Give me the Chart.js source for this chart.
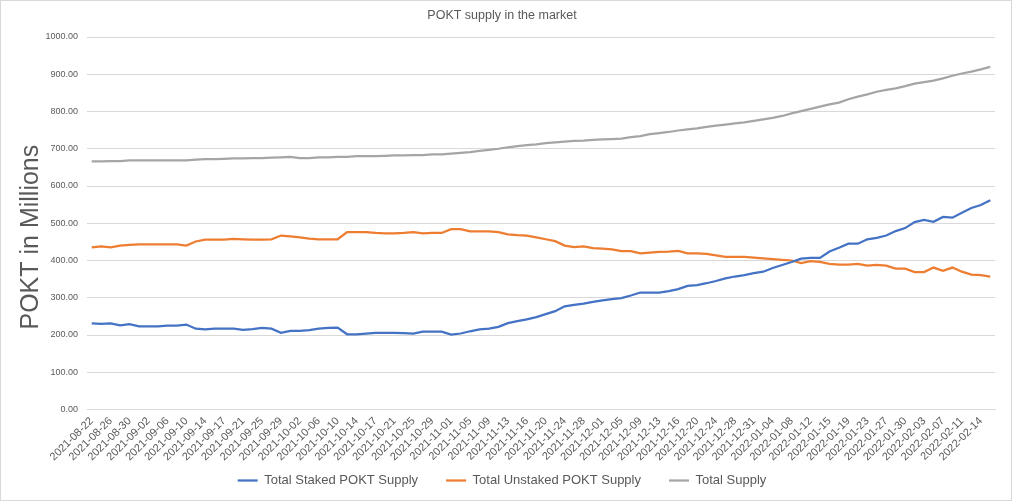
<!DOCTYPE html>
<html>
<head>
<meta charset="utf-8">
<title>POKT supply in the market</title>
<script src="https://cdn.jsdelivr.net/npm/chart.js@4.4.1/dist/chart.umd.min.js"></script>
<style>
    html, body { margin: 0; padding: 0; background: #fff; }
    #wrap { position: relative; width: 1012px; height: 501px; box-sizing: border-box; border: 1px solid #d9d9d9; }
</style>
</head>
<body>
<div id="wrap"><canvas id="supplyChart"></canvas></div>
<script>
// dates (every other one is shown on the axis)
const dates = [
    '2021-08-22', '2021-08-24', '2021-08-26', '2021-08-28', '2021-08-30', '2021-08-31',
    '2021-09-02', '2021-09-04', '2021-09-06', '2021-09-08', '2021-09-10', '2021-09-12',
    '2021-09-14', '2021-09-15', '2021-09-17', '2021-09-19', '2021-09-21', '2021-09-23',
    '2021-09-25', '2021-09-27', '2021-09-29', '2021-09-30', '2021-10-02', '2021-10-04',
    '2021-10-06', '2021-10-08', '2021-10-10', '2021-10-12', '2021-10-14', '2021-10-15',
    '2021-10-17', '2021-10-19', '2021-10-21', '2021-10-23', '2021-10-25', '2021-10-27',
    '2021-10-29', '2021-10-30', '2021-11-01', '2021-11-03', '2021-11-05', '2021-11-07',
    '2021-11-09', '2021-11-11', '2021-11-13', '2021-11-14', '2021-11-16', '2021-11-18',
    '2021-11-20', '2021-11-22', '2021-11-24', '2021-11-26', '2021-11-28', '2021-11-29',
    '2021-12-01', '2021-12-03', '2021-12-05', '2021-12-07', '2021-12-09', '2021-12-11',
    '2021-12-13', '2021-12-14', '2021-12-16', '2021-12-18', '2021-12-20', '2021-12-22',
    '2021-12-24', '2021-12-26', '2021-12-28', '2021-12-29', '2021-12-31', '2022-01-02',
    '2022-01-04', '2022-01-06', '2022-01-08', '2022-01-10', '2022-01-12', '2022-01-13',
    '2022-01-15', '2022-01-17', '2022-01-19', '2022-01-21', '2022-01-23', '2022-01-25',
    '2022-01-27', '2022-01-28', '2022-01-30', '2022-02-01', '2022-02-03', '2022-02-05',
    '2022-02-07', '2022-02-09', '2022-02-11', '2022-02-12', '2022-02-14', '2022-02-16'
];

// millions of POKT
const staked = [
    231, 230, 231, 226, 229, 223, 223, 223, 225, 225, 228, 217,
    215, 217, 217, 217, 214, 216, 219, 217, 206, 211, 211, 213,
    217, 219, 220, 202, 202, 204, 206, 206, 206, 205, 204, 209,
    209, 209, 201, 204, 210, 215, 217, 222, 232, 237, 242, 248,
    256, 264, 277, 281, 284, 289, 293, 296, 299, 306, 314, 314,
    314, 318, 323, 332, 334, 339, 345, 352, 357, 361, 366, 370,
    380, 388, 396, 405, 407, 407, 424, 434, 445, 445, 457, 461,
    467, 479, 487, 503, 509, 504, 517, 515, 528, 541, 549, 562
];

const unstaked = [
    435, 438, 435, 440, 442, 443, 443, 443, 443, 443, 440, 451,
    456, 456, 456, 458, 457, 456, 456, 457, 467, 465, 462, 459,
    457, 457, 457, 476, 476, 476, 474, 473, 473, 474, 476, 473,
    474, 474, 484, 484, 478, 478, 478, 476, 470, 468, 467, 462,
    457, 452, 440, 436, 438, 433, 432, 430, 425, 425, 419, 421,
    423, 424, 426, 419, 419, 418, 414, 410, 410, 410, 408, 406,
    404, 402, 400, 393, 398, 396, 391, 389, 389, 391, 386, 388,
    386, 378, 378, 369, 369, 381, 372, 381, 370, 362, 361, 357
];

const totalSupply = [
    666, 666, 667, 667, 669, 669, 669, 669, 669, 669, 669, 671,
    672, 672, 673, 674, 674, 675, 675, 676, 677, 678, 675, 675,
    677, 677, 678, 678, 680, 680, 680, 681, 682, 682, 683, 683,
    685, 685, 687, 689, 691, 694, 697, 700, 704, 707, 710, 712,
    715, 717, 719, 721, 722, 724, 725, 726, 727, 731, 734, 739,
    742, 745, 749, 752, 755, 759, 762, 765, 768, 771, 775, 779,
    783, 788, 795, 801, 807, 813, 819, 824, 833, 840, 846, 853,
    858, 862, 868, 875, 879, 883, 889, 896, 902, 907, 913, 920
];

const textColor = '#595959';
const gridColor = '#d9d9d9';
const fontFamily = '"Liberation Sans", Arial, sans-serif';

const ctx = document.getElementById('supplyChart').getContext('2d');
new Chart(ctx, {
    type: 'line',
    data: {
        labels: dates,
        datasets: [
            { label: 'Total Staked POKT Supply', data: staked, borderColor: '#4472C4', backgroundColor: '#4472C4', borderWidth: 2.25 },
            { label: 'Total Unstaked POKT Supply', data: unstaked, borderColor: '#ED7D31', backgroundColor: '#ED7D31', borderWidth: 2.25 },
            { label: 'Total Supply', data: totalSupply, borderColor: '#A5A5A5', backgroundColor: '#A5A5A5', borderWidth: 2.25 }
        ]
    },
    options: {
        responsive: true,
        maintainAspectRatio: false,
        animation: false,
        layout: { padding: { left: 8, right: 16, top: 4, bottom: 3 } },
        elements: {
            line: { tension: 0 },
            point: { radius: 0, hoverRadius: 0 }
        },
        scales: {
            x: {
                offset: true,
                grid: { display: false },
                border: { color: gridColor },
                ticks: {
                    autoSkip: false,
                    maxRotation: 45,
                    minRotation: 45,
                    padding: -3,
                    color: textColor,
                    font: { family: fontFamily, size: 11 },
                    callback: function (value, index) {
                        return index % 2 === 0 ? this.getLabelForValue(value) : '';
                    }
                },
                afterFit: (scale) => {
                    scale.height = 36.5;
                    // rotated labels run below the axis box, into the legend's top padding
                    scale._computeLabelArea = () => undefined;
                }
            },
            y: {
                min: 0,
                max: 1000,
                border: { display: false },
                grid: { color: gridColor, drawTicks: false },
                ticks: {
                    stepSize: 100,
                    padding: 9,
                    color: textColor,
                    font: { family: fontFamily, size: 9 },
                    callback: (v) => v.toFixed(2)
                },
                title: {
                    display: true,
                    text: 'POKT in Millions    ',
                    color: textColor,
                    padding: { top: 7, bottom: 2 },
                    font: { family: fontFamily, size: 25 }
                },
                afterFit: (scale) => { scale.width = 78; }
            }
        },
        plugins: {
            title: {
                display: true,
                text: 'POKT supply in the market',
                color: textColor,
                padding: { top: 3, bottom: 14 },
                font: { family: fontFamily, size: 12.5, weight: 'normal' }
            },
            legend: {
                position: 'bottom',
                labels: {
                    usePointStyle: true,
                    pointStyle: 'line',
                    pointStyleWidth: 20,
                    padding: 28,
                    color: textColor,
                    font: { family: fontFamily, size: 13 }
                }
            },
            tooltip: { enabled: false }
        }
    }
});
</script>
</body>
</html>
